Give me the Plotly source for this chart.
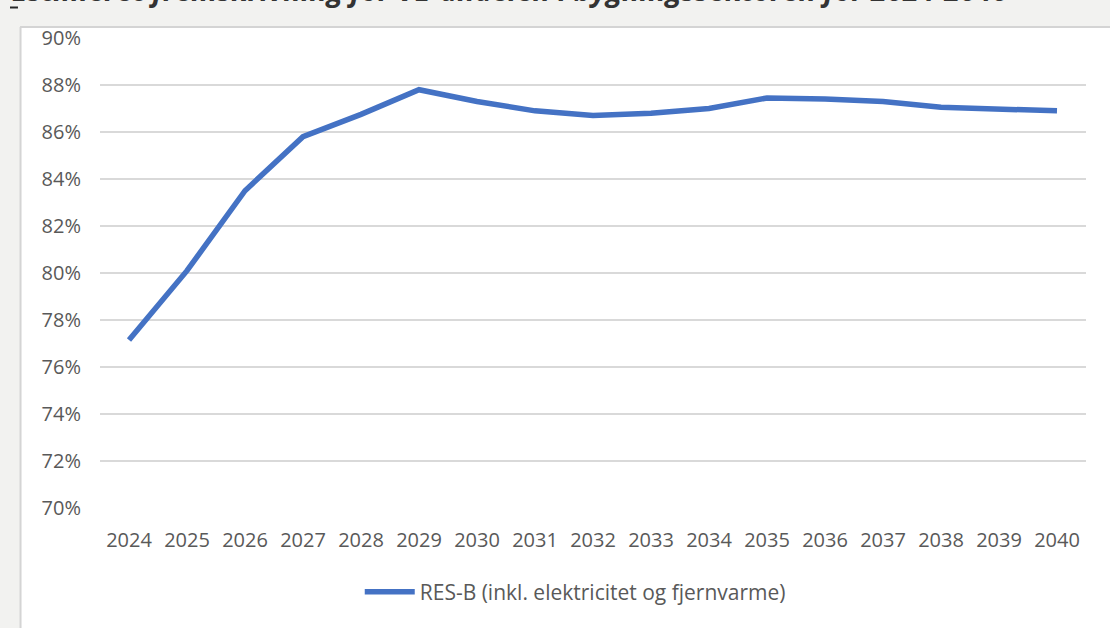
import plotly.graph_objects as go

years = [str(y) for y in range(2024, 2041)]
res_b = [77.15, 80.1, 83.5, 85.8, 86.75, 87.8, 87.3, 86.9, 86.7, 86.8,
         87.0, 87.45, 87.4, 87.3, 87.05, 87.0, 86.9]
y_ticks = [70, 72, 74, 76, 78, 80, 82, 84, 86, 88, 90]
y_tick_labels = [f"{v}%" for v in y_ticks]

series_name = "RES-B (inkl. elektricitet og fjernvarme)"
title_text = "Estimeret fremskrivning for VE-andelen i bygningssektoren for 2024-2040"

fig = go.Figure(
    data=[
        go.Scatter(
            name=series_name,
            x=years,
            y=res_b,
            mode="lines",
            line=dict(color="#4472C4", width=5.5),
        )
    ]
)

fig.update_layout(
    width=1110,
    height=628,
    margin=dict(l=100, r=24, t=38, b=120),
    paper_bgcolor="white",
    plot_bgcolor="white",
    font=dict(family="Open Sans", size=20, color="#595959"),
    showlegend=True,
    legend=dict(
        orientation="h",
        x=0.482,
        xanchor="center",
        y=-0.179,
        yanchor="middle",
        font=dict(size=21, color="#595959"),
        itemwidth=50,
    ),
    xaxis=dict(
        type="category",
        range=[-0.5, len(years) - 0.5],
        showgrid=False,
        showline=False,
        ticks="",
        tickfont=dict(size=20),
        ticklabelstandoff=18,
    ),
    yaxis=dict(
        range=[70, 90],
        tickvals=y_ticks,
        ticktext=y_tick_labels,
        showgrid=True,
        gridcolor="#d9d9d9",
        gridwidth=1.5,
        zeroline=False,
        showline=False,
        ticks="",
        tickfont=dict(size=20),
        ticklabelstandoff=18,
    ),
    shapes=[
        # grey frame left and top, like a pasted screenshot
        dict(type="rect", xref="paper", yref="paper", x0=-0.11, x1=-0.0811,
             y0=-0.3, y1=1.1, fillcolor="#f2f2f0", line_width=0, layer="below"),
        dict(type="rect", xref="paper", yref="paper", x0=-0.11, x1=1.1,
             y0=1.0234, y1=1.1, fillcolor="#f2f2f0", line_width=0, layer="below"),
        dict(type="line", xref="paper", yref="paper", x0=-0.0806, x1=-0.0806,
             y0=-0.3, y1=1.0234, line=dict(color="#d4d4d4", width=2)),
        dict(type="line", xref="paper", yref="paper", x0=-0.0811, x1=1.1,
             y0=1.0234, y1=1.0234, line=dict(color="#d4d4d4", width=2)),
        # small underline dash left of the cut title
        dict(type="line", xref="paper", yref="paper", x0=-0.0913, x1=-0.0832,
             y0=1.0649, y1=1.0649, line=dict(color="#262626", width=2)),
    ],
    annotations=[
        dict(text=f"<b><i>{title_text}</i></b>", xref="paper", yref="paper",
             x=-0.0913, y=1.058, xanchor="left", yanchor="bottom",
             showarrow=False, font=dict(size=29, color="#333333", family="Open Sans")),
    ],
)

# page default body margin would shift the chart by 8px
fig.write_html("out.html", config={"displayModeBar": False},
               post_script="document.body.style.margin='0px';")
